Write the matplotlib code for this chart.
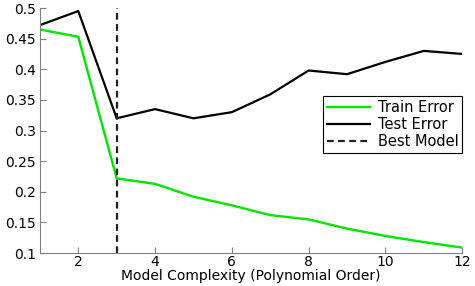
import matplotlib
matplotlib.use("Agg")
import matplotlib.pyplot as plt
from matplotlib.ticker import FuncFormatter

orders = [1, 2, 3, 4, 5, 6, 7, 8, 9, 10, 11, 12]
train_err = [0.465, 0.453, 0.222, 0.213, 0.192, 0.178, 0.162, 0.155, 0.140, 0.128, 0.118, 0.109]
test_err = [0.472, 0.495, 0.320, 0.335, 0.320, 0.330, 0.359, 0.398, 0.392, 0.412, 0.430, 0.425]
best_order = 3
x_ticks = [2, 4, 6, 8, 10, 12]
y_ticks = [0.1, 0.15, 0.2, 0.25, 0.3, 0.35, 0.4, 0.45, 0.5]

plt.rcParams["font.family"] = "DejaVu Sans"
plt.rcParams["font.size"] = 10

fig = plt.figure(figsize=(4.75, 2.86), dpi=100)
ax = fig.add_axes([0.084, 0.115, 0.889, 0.857])

ax.plot(orders, train_err, color="#00e600", lw=1.7, label="Train Error")
ax.plot(orders, test_err, color="black", lw=1.6, label="Test Error")
ax.axvline(best_order, color="#202020", lw=1.6, ls=(0, (3, 2)), label="Best Model")

ax.set_xlim(1, 12)
ax.set_ylim(0.1, 0.5)
ax.set_xticks(x_ticks)
ax.set_yticks(y_ticks)
ax.yaxis.set_major_formatter(FuncFormatter(lambda v, p: "%g" % v))
ax.set_xlabel("Model Complexity (Polynomial Order)", labelpad=0)

for s in ["top", "right"]:
    ax.spines[s].set_visible(False)
for s in ["left", "bottom"]:
    ax.spines[s].set_color("#808080")
ax.tick_params(direction="in", length=4, color="#808080", labelsize=10)
ax.tick_params(axis="x", pad=1.5)
ax.tick_params(axis="y", pad=3)

leg = ax.legend(loc="upper right", bbox_to_anchor=(1.0, 0.64), borderaxespad=0,
                fancybox=False, edgecolor="black", framealpha=1,
                handlelength=3.0, handletextpad=0.5, labelspacing=0.15,
                borderpad=0.25, fontsize=10.5)
leg.get_frame().set_linewidth(0.8)

fig.savefig("out.png", dpi=100)
